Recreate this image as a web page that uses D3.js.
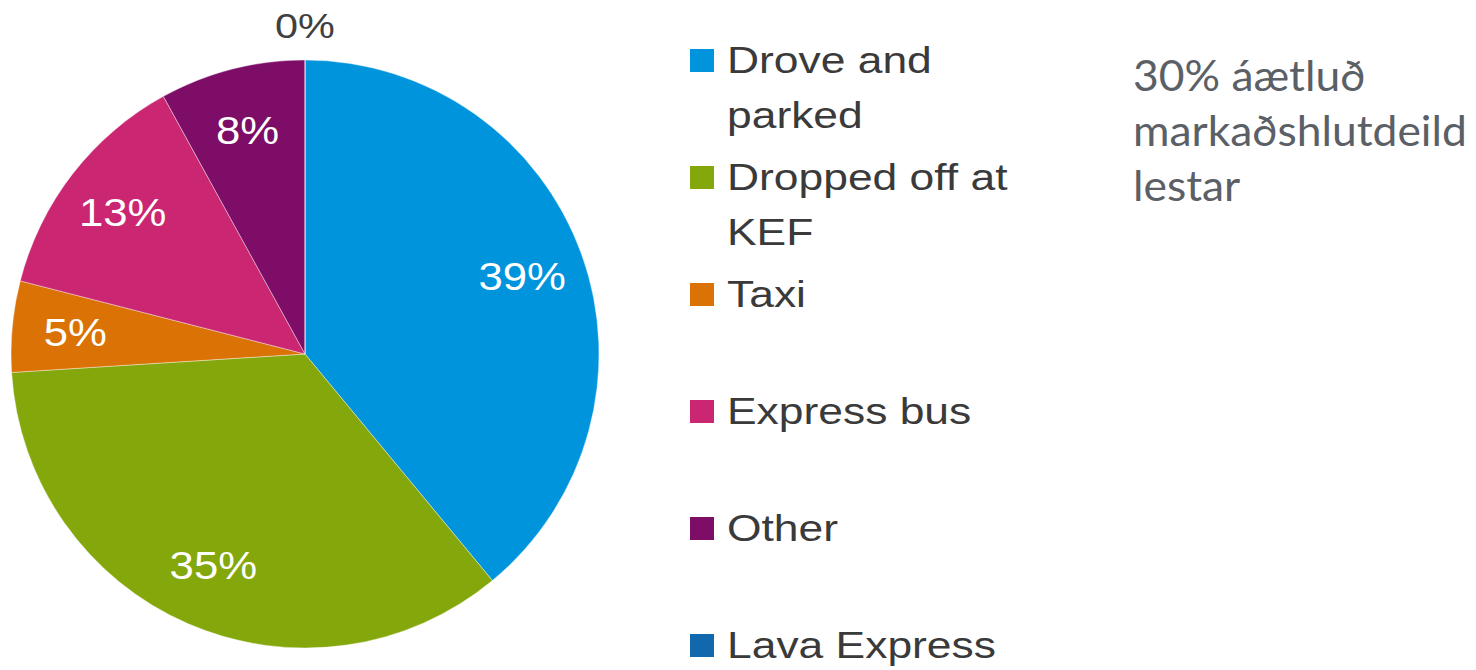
<!DOCTYPE html>
<html>
<head>
<meta charset="utf-8">
<script src="https://cdn.jsdelivr.net/npm/d3@7"></script>
<style>
  body { margin: 0; background: white; }
  svg { display: block; }
</style>
</head>
<body>
<div id="chart"></div>
<script>
// data
var categories = ["Drove and parked", "Dropped off at KEF", "Taxi", "Express bus", "Other", "Lava Express"];
var legendLines = [["Drove and", "parked"], ["Dropped off at", "KEF"], ["Taxi"], ["Express bus"], ["Other"], ["Lava Express"]];
var shares = [39, 35, 5, 13, 8, 0];
var sliceColors = ["#0094dd", "#84a80c", "#da7205", "#cb2672", "#7d0d67", "#1168ac"];
var noteLines = ["30% áætluð", "markaðshlutdeild", "lestar"];

var W = 1476, H = 670;
var cx = 305, cy = 354, r = 294;

var svg = d3.select("#chart").append("svg")
  .attr("width", W)
  .attr("height", H);

var color = d3.scaleOrdinal().domain(categories).range(sliceColors);

var pie = d3.pie().sort(null).value(function(d) { return d.value; });
var rows = categories.map(function(c, i) { return {name: c, value: shares[i]}; });
var arcs = pie(rows);

var arc = d3.arc().innerRadius(0).outerRadius(r);
var labelArc = d3.arc().innerRadius(r * 0.785).outerRadius(r * 0.785);
var outArc = d3.arc().innerRadius(r + 35).outerRadius(r + 35);

var g = svg.append("g").attr("transform", "translate(" + cx + "," + cy + ")");

g.selectAll("path.slice")
  .data(arcs)
  .enter()
  .append("path")
    .attr("class", "slice")
    .attr("d", arc)
    .style("fill", function(d) { return color(d.data.name); })
    .style("stroke", "white")
    .style("stroke-width", 0.4);

// percent labels (text is a bit wider than normal in the original)
g.selectAll("text.pct")
  .data(arcs)
  .enter()
  .append("text")
    .attr("class", "pct")
    .attr("transform", function(d) {
      var p = d.data.value > 0 ? labelArc.centroid(d) : outArc.centroid(d);
      return "translate(" + p[0] + "," + p[1] + ") scale(1.15,1)";
    })
    .attr("text-anchor", "middle")
    .attr("dy", "0.36em")
    .style("font-family", "'Liberation Sans', Arial, sans-serif")
    .style("font-size", function(d) { return d.data.value > 0 ? "38px" : "36px"; })
    .style("fill", function(d) { return d.data.value > 0 ? "white" : "#404040"; })
    .text(function(d) { return d.data.value + "%"; });

// legend
var ly = d3.scalePoint().domain(categories).range([73, 658]);
var legend = svg.selectAll("g.legend")
  .data(categories)
  .enter()
  .append("g")
    .attr("class", "legend")
    .attr("transform", function(d) { return "translate(690," + ly(d) + ")"; });

legend.append("rect")
  .attr("x", 0)
  .attr("y", -24)
  .attr("width", 24)
  .attr("height", 23)
  .style("fill", function(d) { return color(d); });

legend.each(function(d, i) {
  var t = d3.select(this).append("text")
    .attr("transform", "translate(37,0) scale(1.2,1)")
    .style("font-family", "'Liberation Sans', Arial, sans-serif")
    .style("font-size", "37px")
    .style("fill", "#3a3a3a");
  legendLines[i].forEach(function(line, j) {
    t.append("tspan").attr("x", 0).attr("y", j * 55).text(line);
  });
});

// note on the right
var note = svg.append("text")
  .style("font-family", "Lato, 'Open Sans', sans-serif")
  .style("font-size", "43px")
  .style("fill", "#5b6066");
noteLines.forEach(function(line, j) {
  note.append("tspan").attr("x", 0).attr("y", j * 55).text(line);
});
var longest = d3.max(note.selectAll("tspan").nodes(), function(n) { return n.getComputedTextLength(); });
var sx = 334 / longest;
note.attr("transform", "translate(1133,91) scale(" + sx + ",1)");
</script>
</body>
</html>
